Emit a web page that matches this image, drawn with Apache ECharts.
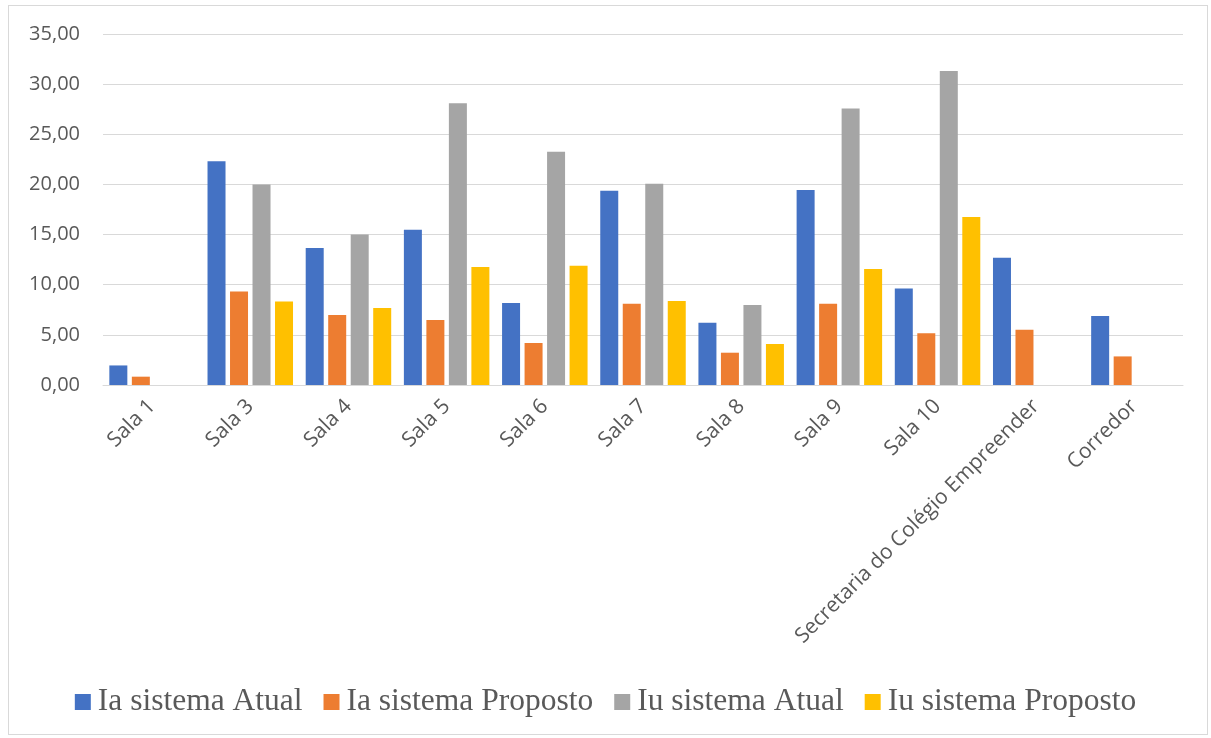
<!DOCTYPE html>
<html>
<head>
<meta charset="utf-8">
<script src="https://cdn.jsdelivr.net/npm/echarts@6/dist/echarts.min.js"></script>
<style>
html,body{margin:0;padding:0;background:#fff;}
#frame{position:absolute;left:8px;top:5px;width:1200px;height:730px;border:1px solid #d9d9d9;box-sizing:border-box;}
#chart{position:absolute;left:0;top:0;width:1211px;height:738px;}
</style>
</head>
<body>
<div id="frame"></div>
<div id="chart"></div>
<script>
const categories = ["Sala 1","Sala 3","Sala 4","Sala 5","Sala 6","Sala 7","Sala 8","Sala 9","Sala 10","Secretaria do Colégio Empreender","Corredor"];
const seriesNames = ["Ia sistema Atual","Ia sistema Proposto","Iu sistema Atual","Iu sistema Proposto"];
const iaAtual    = [1.95, 22.3, 13.66, 15.48, 8.17, 19.37, 6.21, 19.44, 9.63, 12.69, 6.88];
const iaProposto = [0.83, 9.33, 6.98, 6.48, 4.19, 8.10, 3.22, 8.10, 5.15, 5.51, 2.85];
const iuAtual    = [null, 20.0, 15.0, 28.1, 23.26, 20.07, 7.98, 27.58, 31.3, null, null];
const iuProposto = [null, 8.33, 7.67, 11.76, 11.9, 8.37, 4.09, 11.57, 16.75, null, null];
const colors = ["#4472C4","#ED7D31","#A5A5A5","#FFC000"];
const yTicks = {min:0, max:35, interval:5};

const chart = echarts.init(document.getElementById('chart'), null, {renderer:'canvas'});
const dataSets = [iaAtual, iaProposto, iuAtual, iuProposto];
chart.setOption({
  animation:false,
  color: colors,
  grid:{left:103, right:28, top:34, bottom:353, containLabel:false},
  legend:{
    bottom:15, left:'center',
    itemWidth:16, itemHeight:16, itemGap:21,
    icon:'rect',
    textStyle:{fontFamily:'Liberation Serif', fontSize:31.5, color:'#595959', padding:[0,0,0,2]},
    data: seriesNames
  },
  xAxis:{
    type:'category', data:categories,
    axisLine:{lineStyle:{color:'#d9d9d9', width:1}},
    axisTick:{show:false},
    axisLabel:{rotate:45, interval:0, fontFamily:'Open Sans', fontSize:21, color:'#595959', margin:18}
  },
  yAxis:{
    type:'value', min:yTicks.min, max:yTicks.max, interval:yTicks.interval,
    axisLine:{show:false}, axisTick:{show:false},
    splitLine:{lineStyle:{color:'#d9d9d9', width:1}},
    axisLabel:{fontFamily:'Open Sans', fontSize:20, color:'#595959', margin:23,
      formatter: v => v.toFixed(2).replace('.', ',')}
  },
  series: seriesNames.map((n,i)=>({
    name:n, type:'bar', data:dataSets[i], barWidth:18, barGap:'25%',
    itemStyle:{color:colors[i]}
  }))
});
</script>
</body>
</html>
